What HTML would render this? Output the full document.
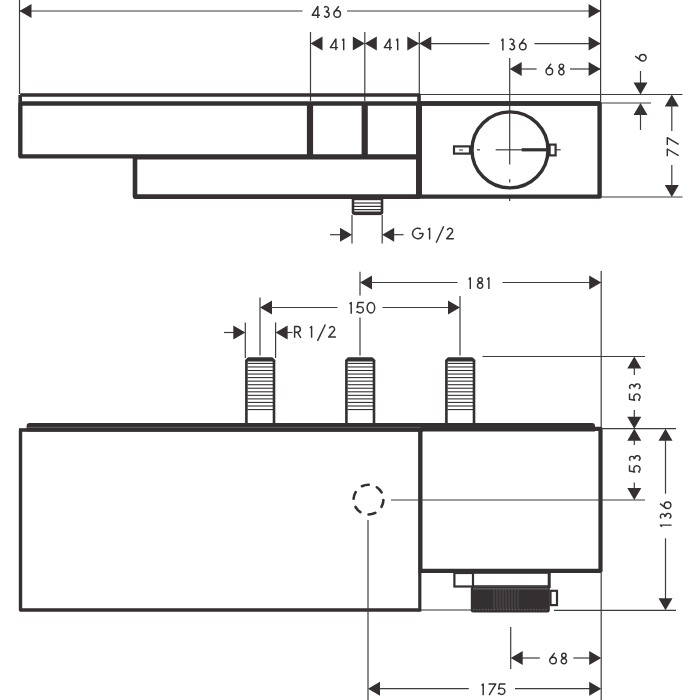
<!DOCTYPE html>
<html><head><meta charset="utf-8">
<style>
html,body{margin:0;padding:0;background:#fff;}
body{width:700px;height:700px;overflow:hidden;}
svg{display:block;}
text{font-family:"Liberation Sans",sans-serif;font-size:17.5px;fill:#343032;}
</style></head><body>
<svg width="700" height="700" viewBox="0 0 700 700">
<rect width="700" height="700" fill="#fff"/>
<line x1="19.5" y1="0" x2="19.5" y2="94" stroke="#3c3c3c" stroke-width="1.2" />
<line x1="310.5" y1="32" x2="310.5" y2="101" stroke="#3c3c3c" stroke-width="1.2" />
<line x1="364.8" y1="32" x2="364.8" y2="101" stroke="#3c3c3c" stroke-width="1.2" />
<line x1="419.3" y1="32" x2="419.3" y2="94" stroke="#3c3c3c" stroke-width="1.2" />
<line x1="600.6" y1="0" x2="600.6" y2="101" stroke="#3c3c3c" stroke-width="1.2" />
<line x1="509.7" y1="58" x2="509.7" y2="112" stroke="#3c3c3c" stroke-width="1.2" />
<line x1="19.5" y1="11" x2="302.5" y2="11" stroke="#3c3c3c" stroke-width="1.2" />
<line x1="347" y1="11" x2="600.6" y2="11" stroke="#3c3c3c" stroke-width="1.2" />
<polygon points="19.5,11 31.5,4 31.5,18" fill="#343032"/>
<polygon points="600.6,11 588.6,4 588.6,18" fill="#343032"/>
<g transform="translate(311.5 17.9)" fill="none" stroke="#343032" stroke-width="1.45" stroke-linejoin="round"><path transform="translate(0 0)" d="M6.3,0 V-11.4 L0.72,-2.7 H8.4"/><path transform="translate(11.2 0)" d="M1.55,-10.22 A2.3,2.3 0 1 1 3.5,-6.7 L3.9,-5.92 A2.6,2.6 0 1 1 1.54,-2.22"/><path transform="translate(21.5 0)" d="M5.8,-11.6 L1.53,-6.03 M0.85,-4.02 A3.3,3.3 0 1 0 7.45,-4.02 A3.3,3.3 0 1 0 0.85,-4.02"/></g>
<polygon points="310.5,43.6 322.5,36.6 322.5,50.6" fill="#343032"/>
<g transform="translate(329.6 50.3)" fill="none" stroke="#343032" stroke-width="1.45" stroke-linejoin="round"><path transform="translate(0 0)" d="M6.3,0 V-11.4 L0.72,-2.7 H8.4"/><path transform="translate(11.8 0)" d="M0.72,-9.7 L2.3,-11.3 V0"/></g>
<polygon points="364.8,43.6 352.8,36.6 352.8,50.6" fill="#343032"/>
<polygon points="364.8,43.6 376.8,36.6 376.8,50.6" fill="#343032"/>
<g transform="translate(383.6 50.3)" fill="none" stroke="#343032" stroke-width="1.45" stroke-linejoin="round"><path transform="translate(0 0)" d="M6.3,0 V-11.4 L0.72,-2.7 H8.4"/><path transform="translate(11.8 0)" d="M0.72,-9.7 L2.3,-11.3 V0"/></g>
<polygon points="419.3,43.6 407.3,36.6 407.3,50.6" fill="#343032"/>
<polygon points="419.3,43.6 431.3,36.6 431.3,50.6" fill="#343032"/>
<line x1="431" y1="43.6" x2="489.4" y2="43.6" stroke="#3c3c3c" stroke-width="1.2" />
<g transform="translate(500.6 50.4)" fill="none" stroke="#343032" stroke-width="1.45" stroke-linejoin="round"><path transform="translate(0 0)" d="M0.72,-9.7 L2.3,-11.3 V0"/><path transform="translate(7.5 0)" d="M1.55,-10.22 A2.3,2.3 0 1 1 3.5,-6.7 L3.9,-5.92 A2.6,2.6 0 1 1 1.54,-2.22"/><path transform="translate(18.0 0)" d="M5.8,-11.6 L1.53,-6.03 M0.85,-4.02 A3.3,3.3 0 1 0 7.45,-4.02 A3.3,3.3 0 1 0 0.85,-4.02"/></g>
<line x1="534.5" y1="43.6" x2="600.6" y2="43.6" stroke="#3c3c3c" stroke-width="1.2" />
<polygon points="600.6,43.6 588.6,36.6 588.6,50.6" fill="#343032"/>
<polygon points="509.7,69 521.7,62 521.7,76" fill="#343032"/>
<line x1="521" y1="69" x2="536.6" y2="69" stroke="#3c3c3c" stroke-width="1.2" />
<g transform="translate(545.2 75.4)" fill="none" stroke="#343032" stroke-width="1.45" stroke-linejoin="round"><path transform="translate(0 0)" d="M5.8,-11.6 L1.53,-6.03 M0.85,-4.02 A3.3,3.3 0 1 0 7.45,-4.02 A3.3,3.3 0 1 0 0.85,-4.02"/><path transform="translate(12.7 0)" d="M1.3,-9.08 A2.2,2.2 0 1 0 5.7,-9.08 A2.2,2.2 0 1 0 1.3,-9.08 M0.85,-3.37 A2.65,2.65 0 1 0 6.15,-3.37 A2.65,2.65 0 1 0 0.85,-3.37"/></g>
<line x1="570" y1="69" x2="600.6" y2="69" stroke="#3c3c3c" stroke-width="1.2" />
<polygon points="600.6,69 588.6,62 588.6,76" fill="#343032"/>
<line x1="420" y1="94.5" x2="682.5" y2="94.5" stroke="#3c3c3c" stroke-width="1.2" />
<line x1="601" y1="103" x2="651" y2="103" stroke="#3c3c3c" stroke-width="1.2" />
<line x1="601" y1="197" x2="682.5" y2="197" stroke="#3c3c3c" stroke-width="1.2" />
<line x1="640.5" y1="71" x2="640.5" y2="90" stroke="#3c3c3c" stroke-width="1.2" />
<polygon points="640.5,94.5 633.5,82.5 647.5,82.5" fill="#343032"/>
<polygon points="640.5,103 633.5,115 647.5,115" fill="#343032"/>
<line x1="640.5" y1="105" x2="640.5" y2="130" stroke="#3c3c3c" stroke-width="1.2" />
<g transform="translate(646.8 61.9) rotate(-90)" fill="none" stroke="#343032" stroke-width="1.45" stroke-linejoin="round"><path transform="translate(0 0)" d="M5.8,-11.6 L1.53,-6.03 M0.85,-4.02 A3.3,3.3 0 1 0 7.45,-4.02 A3.3,3.3 0 1 0 0.85,-4.02"/></g>
<polygon points="671.8,94.5 664.8,106.5 678.8,106.5" fill="#343032"/>
<line x1="671.8" y1="100" x2="671.8" y2="131" stroke="#3c3c3c" stroke-width="1.2" />
<g transform="translate(678.6 157) rotate(-90)" fill="none" stroke="#343032" stroke-width="1.45" stroke-linejoin="round"><path transform="translate(0 0)" d="M0.72,-11.28 H8.0 L1.3,0"/><path transform="translate(11.3 0)" d="M0.72,-11.28 H8.0 L1.3,0"/></g>
<line x1="671.8" y1="165" x2="671.8" y2="192" stroke="#3c3c3c" stroke-width="1.2" />
<polygon points="671.8,197 664.8,185 678.8,185" fill="#343032"/>
<path d="M20.2,95 H419 V103.5" stroke="#343032" stroke-width="3.6" fill="none" stroke-linejoin="round" />
<path d="M20.2,95 V156.4" stroke="#343032" stroke-width="3.6" fill="none" stroke-linejoin="round" />
<line x1="20.5" y1="103.5" x2="601" y2="103.5" stroke="#343032" stroke-width="4.4" />
<path d="M20.4,103 V156.4 H420" stroke="#343032" stroke-width="4.2" fill="none" stroke-linejoin="round" />
<line x1="310" y1="103" x2="310" y2="158" stroke="#343032" stroke-width="6.2" />
<line x1="364.7" y1="103" x2="364.7" y2="158" stroke="#343032" stroke-width="6.2" />
<line x1="419" y1="103" x2="419" y2="198" stroke="#343032" stroke-width="6" />
<path d="M419,103.5 H599.6 V196.6 H419" stroke="#343032" stroke-width="4.4" fill="none" stroke-linejoin="round" />
<path d="M420,157.3 H135 V196.6 H420" stroke="#343032" stroke-width="4.6" fill="none" stroke-linejoin="round" />
<path d="M353,198 V212.5 Q353,213.5 355,213.5 H380 Q382,213.5 382,212.5 V198" stroke="#343032" stroke-width="2.6" fill="none" stroke-linejoin="round" />
<line x1="354" y1="213.3" x2="381" y2="213.3" stroke="#343032" stroke-width="3.6" />
<line x1="354" y1="199.6" x2="381" y2="199.6" stroke="#343032" stroke-width="1.2" />
<line x1="354" y1="203" x2="381" y2="203" stroke="#343032" stroke-width="1.2" />
<line x1="354" y1="206.4" x2="381" y2="206.4" stroke="#343032" stroke-width="1.2" />
<line x1="354" y1="209.6" x2="381" y2="209.6" stroke="#343032" stroke-width="1.2" />
<line x1="352" y1="215" x2="352" y2="243.6" stroke="#3c3c3c" stroke-width="1.2" />
<line x1="382.2" y1="215" x2="382.2" y2="243.6" stroke="#3c3c3c" stroke-width="1.2" />
<line x1="330" y1="234.7" x2="341" y2="234.7" stroke="#3c3c3c" stroke-width="1.2" />
<polygon points="352,234.7 340,227.7 340,241.7" fill="#343032"/>
<polygon points="382.2,234.7 394.2,227.7 394.2,241.7" fill="#343032"/>
<line x1="393" y1="234.7" x2="403.6" y2="234.7" stroke="#3c3c3c" stroke-width="1.2" />
<g transform="translate(411.6 239.5)" fill="none" stroke="#343032" stroke-width="1.45" stroke-linejoin="round"><path transform="translate(0 0)" d="M9.23,-10.33 A5.28,5.28 0 1 0 11.48,-6 H7.3"/><path transform="translate(15.7 0)" d="M0.72,-9.7 L2.3,-11.3 V0"/><path transform="translate(34.3 0)" d="M1.39,-9.30 A2.7,2.7 0 1 1 6.45,-7.46 L0.8,-0.72 H8.0"/></g>
<line x1="443.7" y1="226.3" x2="436.2" y2="242.7" stroke="#343032" stroke-width="1.45" />
<circle cx="510" cy="149.9" r="38" stroke="#343032" stroke-width="3.4" fill="none"/>
<line x1="509.7" y1="112" x2="509.7" y2="164.6" stroke="#3c3c3c" stroke-width="1.2" />
<line x1="509.7" y1="179.3" x2="509.7" y2="182.6" stroke="#3c3c3c" stroke-width="1.2" />
<line x1="509.7" y1="198" x2="509.7" y2="201" stroke="#3c3c3c" stroke-width="1.2" />
<line x1="495.7" y1="149.8" x2="522" y2="149.8" stroke="#3c3c3c" stroke-width="1.2" />
<line x1="477" y1="149.8" x2="480" y2="149.8" stroke="#3c3c3c" stroke-width="1.2" />
<line x1="521.7" y1="149.8" x2="549" y2="149.8" stroke="#343032" stroke-width="3.2" />
<line x1="556" y1="149.8" x2="560.7" y2="149.8" stroke="#3c3c3c" stroke-width="1.2" />
<rect x="454" y="146.4" width="16" height="7.2" stroke="#343032" stroke-width="2.2" fill="none"/>
<line x1="459" y1="150" x2="463" y2="150" stroke="#3c3c3c" stroke-width="1" />
<rect x="549.6" y="144.6" width="6" height="10.8" stroke="#343032" stroke-width="2.2" fill="none"/>
<line x1="360" y1="271.8" x2="360" y2="295.4" stroke="#3c3c3c" stroke-width="1.2" />
<line x1="360" y1="317.4" x2="360" y2="355.5" stroke="#3c3c3c" stroke-width="1.2" />
<polygon points="360,282.5 372,275.5 372,289.5" fill="#343032"/>
<line x1="371" y1="282.5" x2="457.5" y2="282.5" stroke="#3c3c3c" stroke-width="1.2" />
<g transform="translate(468 289.1)" fill="none" stroke="#343032" stroke-width="1.45" stroke-linejoin="round"><path transform="translate(0 0)" d="M0.72,-9.7 L2.3,-11.3 V0"/><path transform="translate(8.6 0)" d="M1.3,-9.08 A2.2,2.2 0 1 0 5.7,-9.08 A2.2,2.2 0 1 0 1.3,-9.08 M0.85,-3.37 A2.65,2.65 0 1 0 6.15,-3.37 A2.65,2.65 0 1 0 0.85,-3.37"/><path transform="translate(18.6 0)" d="M0.72,-9.7 L2.3,-11.3 V0"/></g>
<line x1="502.5" y1="282.5" x2="601.2" y2="282.5" stroke="#3c3c3c" stroke-width="1.2" />
<polygon points="601.2,282.5 589.2,275.5 589.2,289.5" fill="#343032"/>
<line x1="601.2" y1="271" x2="601.2" y2="428" stroke="#3c3c3c" stroke-width="1.2" />
<line x1="260" y1="297.5" x2="260" y2="355.5" stroke="#3c3c3c" stroke-width="1.2" />
<polygon points="260,307.5 272,300.5 272,314.5" fill="#343032"/>
<line x1="271" y1="307.5" x2="337.5" y2="307.5" stroke="#3c3c3c" stroke-width="1.2" />
<g transform="translate(348.9 313.7)" fill="none" stroke="#343032" stroke-width="1.45" stroke-linejoin="round"><path transform="translate(0 0)" d="M0.72,-9.7 L2.3,-11.3 V0"/><path transform="translate(6.7 0)" d="M8.3,-11.28 H2.5 L1.5,-6.1 C2.3,-6.8 3.4,-7.08 4.6,-7.08 A3.18,3.18 0 1 1 2.00,-2.08 L0.72,-1.4"/><path transform="translate(17.5 0)" d="M0.72,-6 A3.78,5.28 0 1 0 8.28,-6 A3.78,5.28 0 1 0 0.72,-6"/></g>
<line x1="382.5" y1="307.5" x2="449" y2="307.5" stroke="#3c3c3c" stroke-width="1.2" />
<polygon points="460,307.5 448,300.5 448,314.5" fill="#343032"/>
<line x1="460" y1="296" x2="460" y2="355.5" stroke="#3c3c3c" stroke-width="1.2" />
<line x1="245.3" y1="322.5" x2="245.3" y2="358" stroke="#3c3c3c" stroke-width="1.2" />
<line x1="275.6" y1="322.5" x2="275.6" y2="358" stroke="#3c3c3c" stroke-width="1.2" />
<line x1="224" y1="332.5" x2="234" y2="332.5" stroke="#3c3c3c" stroke-width="1.2" />
<polygon points="245.3,332.5 233.3,325.5 233.3,339.5" fill="#343032"/>
<polygon points="275.6,332.5 287.6,325.5 287.6,339.5" fill="#343032"/>
<line x1="286" y1="332.5" x2="292.5" y2="332.5" stroke="#3c3c3c" stroke-width="1.2" />
<g transform="translate(293.9 337.8)" fill="none" stroke="#343032" stroke-width="1.45" stroke-linejoin="round"><path transform="translate(0 0)" d="M0.72,0 V-11.28 H3.6 A2.85,2.85 0 0 1 3.6,-5.58 H0.72 M3.4,-5.58 L7.0,0"/><path transform="translate(15.4 0)" d="M0.72,-9.7 L2.3,-11.3 V0"/><path transform="translate(34.0 0)" d="M1.39,-9.30 A2.7,2.7 0 1 1 6.45,-7.46 L0.8,-0.72 H8.0"/></g>
<line x1="325.4" y1="324.5" x2="317.5" y2="340.9" stroke="#343032" stroke-width="1.45" />
<path d="M246.39999999999998,423 V361 L248.39999999999998,359.2 H272.0 L274.0,361 V423" stroke="#343032" stroke-width="2.6" fill="none" stroke-linejoin="round" />
<path d="M245.09999999999997,361.5 V360 L248.09999999999997,357.2 H272.3 L275.3,360 V361.5 Z" fill="#343032"/>
<line x1="247.39999999999998" y1="363.4" x2="273.0" y2="363.4" stroke="#343032" stroke-width="1.1" />
<line x1="247.39999999999998" y1="366.95" x2="273.0" y2="366.95" stroke="#343032" stroke-width="1.1" />
<line x1="247.39999999999998" y1="370.5" x2="273.0" y2="370.5" stroke="#343032" stroke-width="1.1" />
<line x1="247.39999999999998" y1="374.05" x2="273.0" y2="374.05" stroke="#343032" stroke-width="1.1" />
<line x1="247.39999999999998" y1="377.6" x2="273.0" y2="377.6" stroke="#343032" stroke-width="1.1" />
<line x1="247.39999999999998" y1="381.15000000000003" x2="273.0" y2="381.15000000000003" stroke="#343032" stroke-width="1.1" />
<line x1="247.39999999999998" y1="384.70000000000005" x2="273.0" y2="384.70000000000005" stroke="#343032" stroke-width="1.1" />
<line x1="247.39999999999998" y1="388.25000000000006" x2="273.0" y2="388.25000000000006" stroke="#343032" stroke-width="1.1" />
<line x1="247.39999999999998" y1="391.80000000000007" x2="273.0" y2="391.80000000000007" stroke="#343032" stroke-width="1.1" />
<line x1="247.39999999999998" y1="395.3500000000001" x2="273.0" y2="395.3500000000001" stroke="#343032" stroke-width="1.1" />
<line x1="247.39999999999998" y1="398.9000000000001" x2="273.0" y2="398.9000000000001" stroke="#343032" stroke-width="1.1" />
<line x1="247.39999999999998" y1="402.4500000000001" x2="273.0" y2="402.4500000000001" stroke="#343032" stroke-width="1.1" />
<line x1="247.39999999999998" y1="406.0000000000001" x2="273.0" y2="406.0000000000001" stroke="#343032" stroke-width="1.1" />
<line x1="247.39999999999998" y1="409.5500000000001" x2="273.0" y2="409.5500000000001" stroke="#343032" stroke-width="1.1" />
<path d="M346.4,423 V361 L348.4,359.2 H372.0 L374.0,361 V423" stroke="#343032" stroke-width="2.6" fill="none" stroke-linejoin="round" />
<path d="M345.09999999999997,361.5 V360 L348.09999999999997,357.2 H372.3 L375.3,360 V361.5 Z" fill="#343032"/>
<line x1="347.4" y1="363.4" x2="373.0" y2="363.4" stroke="#343032" stroke-width="1.1" />
<line x1="347.4" y1="366.95" x2="373.0" y2="366.95" stroke="#343032" stroke-width="1.1" />
<line x1="347.4" y1="370.5" x2="373.0" y2="370.5" stroke="#343032" stroke-width="1.1" />
<line x1="347.4" y1="374.05" x2="373.0" y2="374.05" stroke="#343032" stroke-width="1.1" />
<line x1="347.4" y1="377.6" x2="373.0" y2="377.6" stroke="#343032" stroke-width="1.1" />
<line x1="347.4" y1="381.15000000000003" x2="373.0" y2="381.15000000000003" stroke="#343032" stroke-width="1.1" />
<line x1="347.4" y1="384.70000000000005" x2="373.0" y2="384.70000000000005" stroke="#343032" stroke-width="1.1" />
<line x1="347.4" y1="388.25000000000006" x2="373.0" y2="388.25000000000006" stroke="#343032" stroke-width="1.1" />
<line x1="347.4" y1="391.80000000000007" x2="373.0" y2="391.80000000000007" stroke="#343032" stroke-width="1.1" />
<line x1="347.4" y1="395.3500000000001" x2="373.0" y2="395.3500000000001" stroke="#343032" stroke-width="1.1" />
<line x1="347.4" y1="398.9000000000001" x2="373.0" y2="398.9000000000001" stroke="#343032" stroke-width="1.1" />
<line x1="347.4" y1="402.4500000000001" x2="373.0" y2="402.4500000000001" stroke="#343032" stroke-width="1.1" />
<line x1="347.4" y1="406.0000000000001" x2="373.0" y2="406.0000000000001" stroke="#343032" stroke-width="1.1" />
<line x1="347.4" y1="409.5500000000001" x2="373.0" y2="409.5500000000001" stroke="#343032" stroke-width="1.1" />
<path d="M446.4,423 V361 L448.4,359.2 H472.0 L474.0,361 V423" stroke="#343032" stroke-width="2.6" fill="none" stroke-linejoin="round" />
<path d="M445.09999999999997,361.5 V360 L448.09999999999997,357.2 H472.3 L475.3,360 V361.5 Z" fill="#343032"/>
<line x1="447.4" y1="363.4" x2="473.0" y2="363.4" stroke="#343032" stroke-width="1.1" />
<line x1="447.4" y1="366.95" x2="473.0" y2="366.95" stroke="#343032" stroke-width="1.1" />
<line x1="447.4" y1="370.5" x2="473.0" y2="370.5" stroke="#343032" stroke-width="1.1" />
<line x1="447.4" y1="374.05" x2="473.0" y2="374.05" stroke="#343032" stroke-width="1.1" />
<line x1="447.4" y1="377.6" x2="473.0" y2="377.6" stroke="#343032" stroke-width="1.1" />
<line x1="447.4" y1="381.15000000000003" x2="473.0" y2="381.15000000000003" stroke="#343032" stroke-width="1.1" />
<line x1="447.4" y1="384.70000000000005" x2="473.0" y2="384.70000000000005" stroke="#343032" stroke-width="1.1" />
<line x1="447.4" y1="388.25000000000006" x2="473.0" y2="388.25000000000006" stroke="#343032" stroke-width="1.1" />
<line x1="447.4" y1="391.80000000000007" x2="473.0" y2="391.80000000000007" stroke="#343032" stroke-width="1.1" />
<line x1="447.4" y1="395.3500000000001" x2="473.0" y2="395.3500000000001" stroke="#343032" stroke-width="1.1" />
<line x1="447.4" y1="398.9000000000001" x2="473.0" y2="398.9000000000001" stroke="#343032" stroke-width="1.1" />
<line x1="447.4" y1="402.4500000000001" x2="473.0" y2="402.4500000000001" stroke="#343032" stroke-width="1.1" />
<line x1="447.4" y1="406.0000000000001" x2="473.0" y2="406.0000000000001" stroke="#343032" stroke-width="1.1" />
<line x1="447.4" y1="409.5500000000001" x2="473.0" y2="409.5500000000001" stroke="#343032" stroke-width="1.1" />
<path d="M26.6,431.5 V426 Q26.6,423 29.6,423 H592 Q595,423 595,426 V431.5 Z" fill="#343032"/>
<rect x="19" y="428.2" width="404" height="3.6" fill="#343032"/>
<line x1="27.5" y1="427.4" x2="594" y2="427.4" stroke="#6a6668" stroke-width="0.9" />
<path d="M20.5,430 V610 H419.7" stroke="#343032" stroke-width="3.4" fill="none" stroke-linejoin="round" />
<line x1="420.3" y1="430" x2="420.3" y2="573" stroke="#343032" stroke-width="4.4" />
<line x1="419.8" y1="572" x2="419.8" y2="611.6" stroke="#343032" stroke-width="3.2" />
<path d="M420.5,428.8 H600.5 V570.9 H420.5" stroke="#343032" stroke-width="4.2" fill="none" stroke-linejoin="round" />
<circle cx="368.5" cy="499.6" r="14.9" stroke="#343032" stroke-width="2.6" fill="none" stroke-linecap="round" stroke-dasharray="7 8.6" stroke-dashoffset="-0.6"/>
<line x1="368" y1="520" x2="368" y2="700" stroke="#3c3c3c" stroke-width="1.2" />
<line x1="391" y1="500" x2="645" y2="500" stroke="#3c3c3c" stroke-width="1.2" />
<line x1="482.5" y1="356.5" x2="645" y2="356.5" stroke="#3c3c3c" stroke-width="1.2" />
<line x1="601" y1="428.7" x2="676" y2="428.7" stroke="#3c3c3c" stroke-width="1.2" />
<line x1="554" y1="610.3" x2="676" y2="610.3" stroke="#3c3c3c" stroke-width="1.2" />
<line x1="421" y1="610" x2="471" y2="610" stroke="#343032" stroke-width="1.1" />
<line x1="601.2" y1="573" x2="601.2" y2="700" stroke="#3c3c3c" stroke-width="1.2" />
<polygon points="634.3,356.5 627.3,368.5 641.3,368.5" fill="#343032"/>
<line x1="634.3" y1="367" x2="634.3" y2="375" stroke="#3c3c3c" stroke-width="1.2" />
<g transform="translate(640.8 401.7) rotate(-90)" fill="none" stroke="#343032" stroke-width="1.45" stroke-linejoin="round"><path transform="translate(0 0)" d="M8.3,-11.28 H2.5 L1.5,-6.1 C2.3,-6.8 3.4,-7.08 4.6,-7.08 A3.18,3.18 0 1 1 2.00,-2.08 L0.72,-1.4"/><path transform="translate(11.3 0)" d="M1.55,-10.22 A2.3,2.3 0 1 1 3.5,-6.7 L3.9,-5.92 A2.6,2.6 0 1 1 1.54,-2.22"/></g>
<line x1="634.3" y1="410" x2="634.3" y2="418" stroke="#3c3c3c" stroke-width="1.2" />
<polygon points="634.3,428.7 627.3,416.7 641.3,416.7" fill="#343032"/>
<polygon points="634.3,428.7 627.3,440.7 641.3,440.7" fill="#343032"/>
<line x1="634.3" y1="440" x2="634.3" y2="445" stroke="#3c3c3c" stroke-width="1.2" />
<g transform="translate(640.8 473.5) rotate(-90)" fill="none" stroke="#343032" stroke-width="1.45" stroke-linejoin="round"><path transform="translate(0 0)" d="M8.3,-11.28 H2.5 L1.5,-6.1 C2.3,-6.8 3.4,-7.08 4.6,-7.08 A3.18,3.18 0 1 1 2.00,-2.08 L0.72,-1.4"/><path transform="translate(11.3 0)" d="M1.55,-10.22 A2.3,2.3 0 1 1 3.5,-6.7 L3.9,-5.92 A2.6,2.6 0 1 1 1.54,-2.22"/></g>
<line x1="634.3" y1="482.5" x2="634.3" y2="489" stroke="#3c3c3c" stroke-width="1.2" />
<polygon points="634.3,500 627.3,488 641.3,488" fill="#343032"/>
<polygon points="665.5,428.7 658.5,440.7 672.5,440.7" fill="#343032"/>
<line x1="665.5" y1="440" x2="665.5" y2="493.7" stroke="#3c3c3c" stroke-width="1.2" />
<g transform="translate(671.6 527.4) rotate(-90)" fill="none" stroke="#343032" stroke-width="1.45" stroke-linejoin="round"><path transform="translate(0 0)" d="M0.72,-9.7 L2.3,-11.3 V0"/><path transform="translate(7.5 0)" d="M1.55,-10.22 A2.3,2.3 0 1 1 3.5,-6.7 L3.9,-5.92 A2.6,2.6 0 1 1 1.54,-2.22"/><path transform="translate(18.0 0)" d="M5.8,-11.6 L1.53,-6.03 M0.85,-4.02 A3.3,3.3 0 1 0 7.45,-4.02 A3.3,3.3 0 1 0 0.85,-4.02"/></g>
<line x1="665.5" y1="538.3" x2="665.5" y2="599" stroke="#3c3c3c" stroke-width="1.2" />
<polygon points="665.5,610.3 658.5,598.3 672.5,598.3" fill="#343032"/>
<rect x="454.4" y="573" width="18.6" height="13.5" stroke="#343032" stroke-width="2.2" fill="none"/>
<rect x="473" y="573" width="76" height="13" stroke="#343032" stroke-width="1.6" fill="none"/>
<line x1="549.2" y1="572" x2="549.2" y2="588" stroke="#343032" stroke-width="3" />
<rect x="470.8" y="586.5" width="79" height="26" rx="2.5" fill="#343032"/>
<rect x="550.5" y="590.8" width="6.5" height="14.3" stroke="#343032" stroke-width="2.2" fill="white"/>
<line x1="494" y1="590" x2="494" y2="609" stroke="#666" stroke-width="0.6" />
<line x1="497" y1="590" x2="497" y2="609" stroke="#666" stroke-width="0.6" />
<line x1="500" y1="590" x2="500" y2="609" stroke="#666" stroke-width="0.6" />
<line x1="503" y1="590" x2="503" y2="609" stroke="#666" stroke-width="0.6" />
<line x1="506" y1="590" x2="506" y2="609" stroke="#666" stroke-width="0.6" />
<line x1="509" y1="590" x2="509" y2="609" stroke="#666" stroke-width="0.6" />
<line x1="512" y1="590" x2="512" y2="609" stroke="#666" stroke-width="0.6" />
<line x1="515" y1="590" x2="515" y2="609" stroke="#666" stroke-width="0.6" />
<line x1="518" y1="590" x2="518" y2="609" stroke="#666" stroke-width="0.6" />
<line x1="473" y1="588.9" x2="548" y2="588.9" stroke="#999" stroke-width="0.6" />
<line x1="473" y1="609.6" x2="548" y2="609.6" stroke="#888" stroke-width="0.6" stroke-dasharray="1.5 1.5"/>
<line x1="510.7" y1="626.9" x2="510.7" y2="668.9" stroke="#3c3c3c" stroke-width="1.2" />
<polygon points="510.7,658 522.7,651 522.7,665" fill="#343032"/>
<line x1="522" y1="658" x2="539.8" y2="658" stroke="#3c3c3c" stroke-width="1.2" />
<g transform="translate(548.9 664.5)" fill="none" stroke="#343032" stroke-width="1.45" stroke-linejoin="round"><path transform="translate(0 0)" d="M5.8,-11.6 L1.53,-6.03 M0.85,-4.02 A3.3,3.3 0 1 0 7.45,-4.02 A3.3,3.3 0 1 0 0.85,-4.02"/><path transform="translate(11.5 0)" d="M1.3,-9.08 A2.2,2.2 0 1 0 5.7,-9.08 A2.2,2.2 0 1 0 1.3,-9.08 M0.85,-3.37 A2.65,2.65 0 1 0 6.15,-3.37 A2.65,2.65 0 1 0 0.85,-3.37"/></g>
<line x1="573.4" y1="658" x2="590" y2="658" stroke="#3c3c3c" stroke-width="1.2" />
<polygon points="601.2,658 589.2,651 589.2,665" fill="#343032"/>
<polygon points="368,688.7 380,681.7 380,695.7" fill="#343032"/>
<line x1="379" y1="688.7" x2="468.8" y2="688.7" stroke="#3c3c3c" stroke-width="1.2" />
<g transform="translate(480.9 695.2)" fill="none" stroke="#343032" stroke-width="1.45" stroke-linejoin="round"><path transform="translate(0 0)" d="M0.72,-9.7 L2.3,-11.3 V0"/><path transform="translate(6.9 0)" d="M0.72,-11.28 H8.0 L1.3,0"/><path transform="translate(16.2 0)" d="M8.3,-11.28 H2.5 L1.5,-6.1 C2.3,-6.8 3.4,-7.08 4.6,-7.08 A3.18,3.18 0 1 1 2.00,-2.08 L0.72,-1.4"/></g>
<line x1="515" y1="688.7" x2="590" y2="688.7" stroke="#3c3c3c" stroke-width="1.2" />
<polygon points="601.2,688.7 589.2,681.7 589.2,695.7" fill="#343032"/>
</svg>
</body></html>
